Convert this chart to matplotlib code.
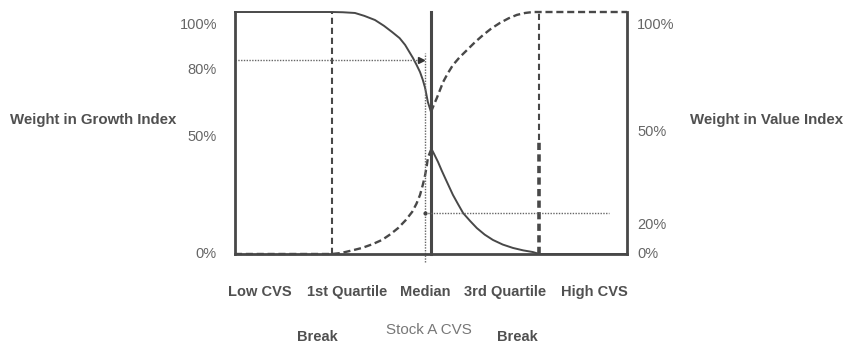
import numpy as np
import matplotlib
matplotlib.use('Agg')
import matplotlib.pyplot as plt

# x = CVS rank (0 = Low CVS, 100 = High CVS), y = weight in %
q1, median, q3 = 24.7, 50.0, 77.6
stock_a = 48.5

growth_left_x = [0, 24.7, 27.5, 30.6, 33.0, 35.7, 38.0, 40.1, 42.0, 43.4, 45.4,
                 46.3, 47.2, 47.9, 48.5, 49.2, 50.0]
growth_left_y = [100, 100, 99.9, 99.6, 98.4, 96.7, 94.3, 91.7, 89.2, 86.4, 81.0,
                 78.2, 75.2, 72.0, 68.6, 62.8, 58.7]
growth_right_x = [50.0, 50.8, 51.8, 52.7, 53.6, 54.6, 55.6, 56.9, 58.2, 60.0, 61.7,
                  63.7, 65.8, 68.3, 70.9, 73.5, 76.0, 77.6, 100]
growth_right_y = [43.8, 41.3, 38.0, 34.6, 31.4, 27.9, 24.4, 20.6, 16.9, 13.6, 10.7,
                  8.0, 5.8, 3.9, 2.5, 1.5, 0.8, 0.0, 0.0]

value_left_x = [0, 24.7, 26.5, 28.1, 30.2, 32.4, 35.0, 37.5, 39.6, 41.6, 43.5, 45.2,
                46.3, 47.2, 47.9, 48.5, 48.9, 49.2, 49.6, 50.0]
value_left_y = [0, 0.0, 0.3, 0.8, 1.6, 2.5, 4.0, 5.8, 8.1, 10.7, 13.9, 17.4,
                20.8, 24.4, 28.5, 32.6, 36.2, 39.7, 41.4, 43.0]
value_right_x = [50.0, 50.7, 51.5, 52.3, 53.1, 54.3, 55.6, 57.3, 59.2, 61.2, 63.3,
                 65.4, 67.6, 69.8, 71.9, 74.0, 76.0, 77.8, 100]
value_right_y = [58.7, 61.5, 64.5, 67.8, 71.1, 74.7, 78.1, 81.3, 84.3, 87.5, 90.5,
                 93.2, 95.5, 97.4, 98.8, 99.6, 100, 100, 100]

growth_at_a = 80   # weight in growth index for stock A
value_at_a = 17    # weight in value index for stock A (labelled 20%)

left_ticks = ['100%', '80%', '50%', '0%']
right_ticks = ['100%', '50%', '20%', '0%']
x_labels = ['Low CVS', '1st Quartile', 'Median', '3rd Quartile', 'High CVS']

dark = '#484848'
txt = '#505050'
font = ['Liberation Sans', 'DejaVu Sans']

fig = plt.figure(figsize=(8.48, 3.45), dpi=100)
ax = fig.add_axes([0.2771, 0.2638, 0.4623, 0.7014])
ax.set_xlim(0, 100)
ax.set_ylim(0, 100)
ax.set_xticks([])
ax.set_yticks([])
ax.spines['top'].set_visible(False)
for s in ['left', 'bottom', 'right']:
    ax.spines[s].set_linewidth(2.0)
    ax.spines[s].set_color(dark)

# growth index weight (solid)
ax.plot(growth_left_x, growth_left_y, color=dark, lw=1.4, clip_on=False)
ax.plot(growth_right_x, growth_right_y, color=dark, lw=1.4, clip_on=False)
# value index weight (dashed)
ax.plot(value_left_x, value_left_y, color=dark, lw=1.7, ls=(0, (3, 1.6)), clip_on=False)
ax.plot(value_right_x, value_right_y, color=dark, lw=1.7, ls=(0, (3, 1.6)), clip_on=False)

# breaks and median
ax.plot([q1, q1], [0, 100], color=dark, lw=1.5, ls=(0, (3, 1.8)))
ax.plot([q3, q3], [47, 100], color=dark, lw=1.5, ls=(0, (3, 1.8)))
ax.plot([q3, q3], [0, 47], color=dark, lw=2.6, ls=(0, (2, 1.2)))
ax.plot([median, median], [0, 100], color=dark, lw=2.2, clip_on=False)

# stock A
ax.plot([stock_a, stock_a], [-3.5, 83], color='#666666', lw=1.0, ls=(0, (1, 1)), clip_on=False)
ax.plot([0, stock_a - 1.3], [growth_at_a, growth_at_a], color='#666666', lw=1.0, ls=(0, (1, 1)))
ax.plot(stock_a - 1.0, growth_at_a, marker='>', color='#333333', ms=5, clip_on=False)
ax.plot([stock_a, 95.5], [value_at_a, value_at_a], color='#666666', lw=1.0, ls=(0, (1, 1)))
ax.plot(stock_a, value_at_a, marker='o', color='#444444', ms=2)

# left / right percentage labels
left_pos = [100, 80, 50, 0]
left_off = [-13, -10, -4, 0]
for lab, y, off in zip(left_ticks, left_pos, left_off):
    ax.annotate(lab, xy=(0, y), xytext=(-18, off), textcoords='offset pixels',
                ha='right', va='center', fontsize=10.5, color='#666666', family=font)
right_pos = [100, 50, value_at_a, 0]
right_off = [-13, 1, -12, 0]
for lab, y, off in zip(right_ticks, right_pos, right_off):
    ax.annotate(lab, xy=(100, y), xytext=(10, off), textcoords='offset pixels',
                ha='left', va='center', fontsize=10.5, color='#666666', family=font)

fig.text(0.11, 0.652, 'Weight in Growth Index', ha='center', va='center',
         fontsize=10.8, fontweight='bold', color=txt, family=font)
fig.text(0.904, 0.652, 'Weight in Value Index', ha='center', va='center',
         fontsize=10.8, fontweight='bold', color=txt, family=font)

label_x = [260, 347, 425, 505, 594]
for lab, px in zip(x_labels, label_x):
    fig.text(px / 848, 0.154, lab, ha='center', va='center', fontsize=10.5,
             fontweight='bold', color=txt, family=font)
fig.text(317 / 848, 0.023, 'Break', ha='center', va='center', fontsize=10.5,
         fontweight='bold', color=txt, family=font)
fig.text(517 / 848, 0.023, 'Break', ha='center', va='center', fontsize=10.5,
         fontweight='bold', color=txt, family=font)
fig.text(429 / 848, 0.043, 'Stock A CVS', ha='center', va='center', fontsize=10.9,
         color='#777777', family=font)

fig.savefig('out.png', dpi=100)
